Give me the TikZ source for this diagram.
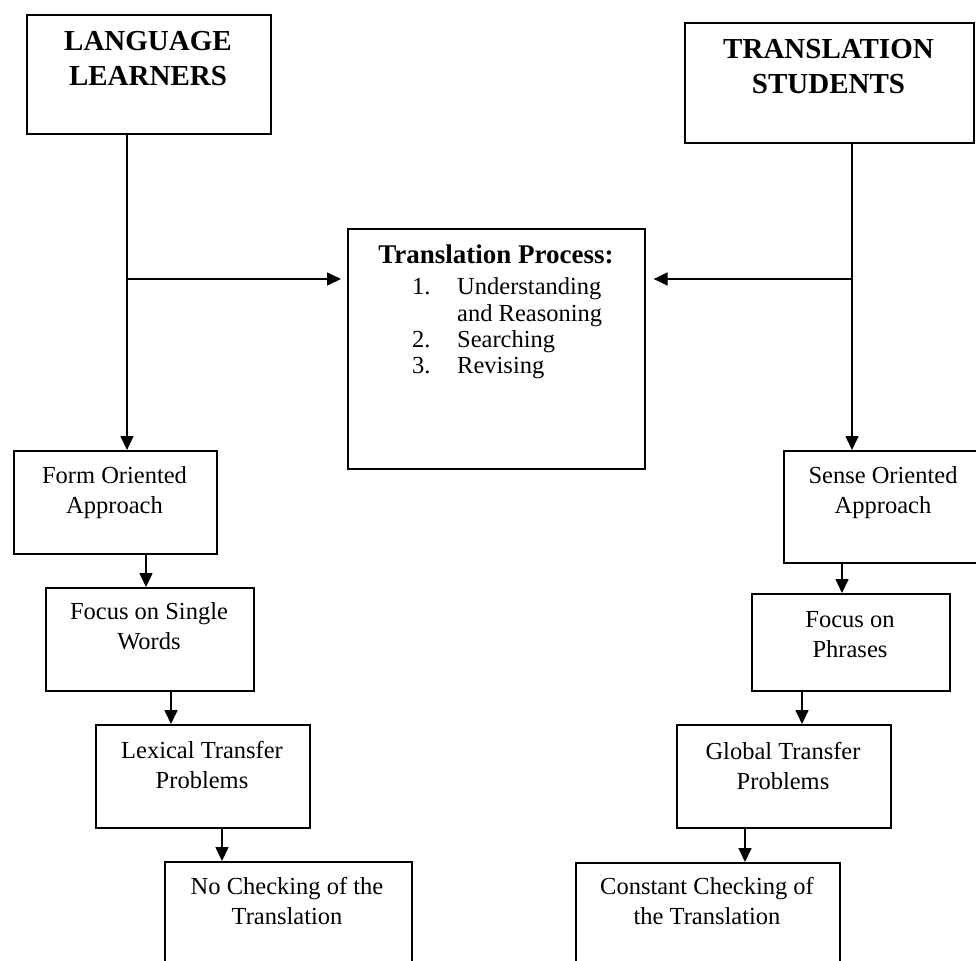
\documentclass[tikz,border=0pt]{standalone}
\usepackage{fontspec}
\setmainfont{Liberation Serif}
\usetikzlibrary{arrows.meta}
\begin{document}
\begin{tikzpicture}[x=1pt,y=-1pt,
  box/.style={draw, line width=1.6pt, rectangle, inner sep=0pt, anchor=north west},
  head/.style={font=\bfseries\fontsize{29}{34.5}\selectfont, align=center, inner sep=0pt, anchor=north},
  title/.style={font=\bfseries\fontsize{27}{32}\selectfont, inner sep=0pt, anchor=north},
  body/.style={font=\fontsize{24.5}{30}\selectfont, align=center, inner sep=0pt, anchor=north},
  steplist/.style={font=\fontsize{24.5}{26.3}\selectfont, align=left, inner sep=0pt, anchor=north west},
  link/.style={line width=1.6pt},
  arr/.style={line width=1.6pt, -{Triangle[length=14pt,width=13pt]}}]
\clip (0,0) rectangle (976,960);

% boxes
\node[box, minimum width=244pt, minimum height=119pt] (ll)    at (26,14)   {};
\node[box, minimum width=289pt, minimum height=120pt] (ts)    at (684,22)  {};
\node[box, minimum width=297pt, minimum height=240pt] (tp)    at (347,228) {};
\node[box, minimum width=203pt, minimum height=103pt] (form)  at (13,450)  {};
\node[box, minimum width=208pt, minimum height=103pt] (fsw)   at (45,587)  {};
\node[box, minimum width=214pt, minimum height=103pt] (lex)   at (95,724)  {};
\node[box, minimum width=247pt, minimum height=140pt] (noc)   at (164,861) {};
\node[box, minimum width=200pt, minimum height=112pt] (sense) at (783,450) {};
\node[box, minimum width=198pt, minimum height=97pt]  (phr)   at (751,593) {};
\node[box, minimum width=214pt, minimum height=103pt] (glob)  at (676,724) {};
\node[box, minimum width=264pt, minimum height=140pt] (con)   at (575,862) {};

% texts
\node[head] (llt) at (148,31.5) {LANGUAGE\\LEARNERS};
\node[head] (tst) at (828.5,39.5) {TRANSLATION\\STUDENTS};
\node[title] (tpt) at (496,244.5) {Translation Process:};
\node[steplist] (tps) at (412,277.5) {\makebox[45pt][l]{1.}Understanding\\
  \hspace*{45pt}and Reasoning\\
  \makebox[45pt][l]{2.}Searching\\
  \makebox[45pt][l]{3.}Revising};
\node[body] (formt)  at (114.5,466.5) {Form Oriented\\Approach};
\node[body] (fswt)   at (149,602.5)   {Focus on Single\\Words};
\node[body] (lext)   at (202,741.5)   {Lexical Transfer\\Problems};
\node[body] (noct)   at (287,877.5)   {No Checking of the\\Translation};
\node[body] (senset) at (883,466.5)   {Sense Oriented\\Approach};
\node[body] (phrt)   at (850,611.5)   {Focus on\\Phrases};
\node[body] (globt)  at (783,742.5)   {Global Transfer\\Problems};
\node[body] (cont)   at (707,877.5)   {Constant Checking of\\the Translation};

% branching points of the two main columns
\coordinate (lb) at (127,279);
\coordinate (rb) at (852,279);

% connectors
\draw[arr] (ll.south -| lb) -- (form.north -| lb);
\draw[arr, shorten >=6pt] (lb) -- (tp.west |- lb);
\draw[arr] (ts.south -| rb) -- (sense.north -| rb);
\draw[arr, shorten >=8pt] (rb) -- (tp.east |- rb);

\draw[arr] (form.south -| 146,0) -- (fsw.north -| 146,0);
\draw[arr] (fsw.south -| 171,0)  -- (lex.north -| 171,0);
\draw[arr] (lex.south -| 222,0)  -- (noc.north -| 222,0);

\draw[arr] (sense.south -| 842,0) -- (phr.north -| 842,0);
\draw[arr] (phr.south -| 802,0)   -- (glob.north -| 802,0);
\draw[arr] (glob.south -| 745,0)  -- (con.north -| 745,0);
\end{tikzpicture}
\end{document}
